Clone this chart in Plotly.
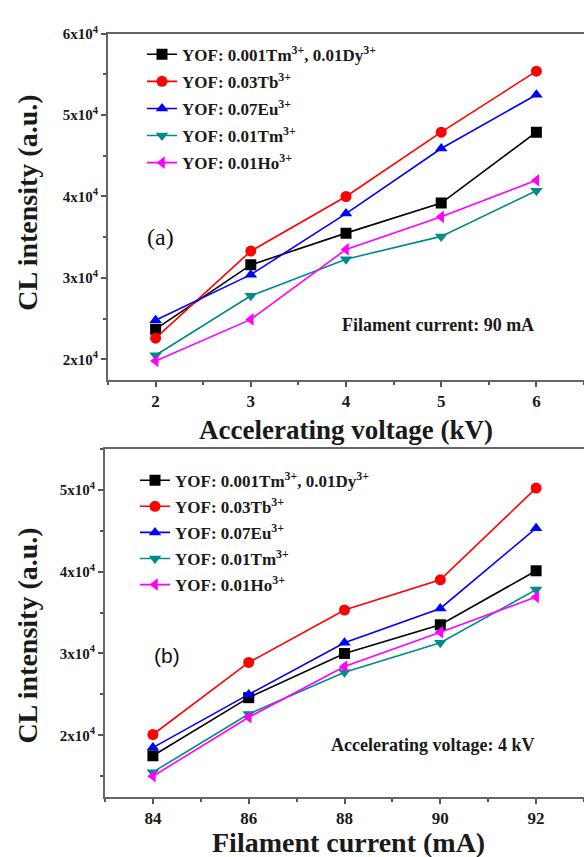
import plotly.graph_objects as go

W, H = 584, 857

# ---------------- data ----------------
voltage_kv = [2, 3, 4, 5, 6]
current_ma = [84, 86, 88, 90, 92]

series_names = [
    "YOF: 0.001Tm<sup>3+</sup>, 0.01Dy<sup>3+</sup>",
    "YOF: 0.03Tb<sup>3+</sup>",
    "YOF: 0.07Eu<sup>3+</sup>",
    "YOF: 0.01Tm<sup>3+</sup>",
    "YOF: 0.01Ho<sup>3+</sup>",
]

# panel (a): CL intensity vs accelerating voltage (filament current 90 mA)
a_tm_dy = [23700, 31600, 35500, 39200, 47900]
a_tb = [22600, 33300, 40000, 47900, 55400]
a_eu = [24800, 30400, 37900, 45900, 52500]
a_tm = [20500, 27800, 32300, 35100, 40700]
a_ho = [19800, 24900, 33500, 37500, 42000]

# panel (b): CL intensity vs filament current (accelerating voltage 4 kV)
b_tm_dy = [17500, 24600, 30000, 33500, 40100]
b_tb = [20100, 28900, 35300, 39000, 50200]
b_eu = [18500, 25000, 31300, 35500, 45300]
b_tm = [15500, 22600, 27700, 31300, 37800]
b_ho = [15000, 22200, 28400, 32600, 36900]

y_tickvals_a = [20000, 30000, 40000, 50000, 60000]
y_ticktext_a = ["2x10<sup>4</sup>", "3x10<sup>4</sup>", "4x10<sup>4</sup>",
                "5x10<sup>4</sup>", "6x10<sup>4</sup>"]
y_tickvals_b = [20000, 30000, 40000, 50000]
y_ticktext_b = ["2x10<sup>4</sup>", "3x10<sup>4</sup>", "4x10<sup>4</sup>",
                "5x10<sup>4</sup>"]

colors = ["#000000", "#ff0000", "#0000ff", "#008b8b", "#ff00ff"]
symbols = ["square", "circle", "triangle-up", "triangle-down", "triangle-left"]

SERIF = "Liberation Serif, Times New Roman, serif"
SANS = "Liberation Sans, Arial, sans-serif"
TXT = "#1a1a1a"


def px(x):
    return x / W


def py(y):
    return 1 - y / H


def bold(s):
    return "<b>%s</b>" % s


fig = go.Figure()

panel_a = [a_tm_dy, a_tb, a_eu, a_tm, a_ho]
panel_b = [b_tm_dy, b_tb, b_eu, b_tm, b_ho]

for i, ys in enumerate(panel_a):
    fig.add_trace(go.Scatter(
        x=voltage_kv, y=ys, mode="lines+markers", name=bold(series_names[i]),
        line=dict(color=colors[i], width=1.6),
        marker=dict(symbol=symbols[i], size=11, color=colors[i]),
        xaxis="x", yaxis="y", legend="legend", legendgroup="a%d" % i,
    ))
for i, ys in enumerate(panel_b):
    fig.add_trace(go.Scatter(
        x=current_ma, y=ys, mode="lines+markers", name=bold(series_names[i]),
        line=dict(color=colors[i], width=1.6),
        marker=dict(symbol=symbols[i], size=11, color=colors[i]),
        xaxis="x2", yaxis="y2", legend="legend2", legendgroup="b%d" % i,
    ))

axis_common = dict(
    showline=True, linecolor="#666666", linewidth=2,
    ticks="outside", ticklen=5, tickwidth=1.5, tickcolor="#555555",
    showgrid=False, zeroline=False,
)

fig.update_layout(
    width=W, height=H,
    margin=dict(l=0, r=0, t=0, b=0),
    paper_bgcolor="white", plot_bgcolor="white",
    xaxis=dict(
        domain=[px(108), 1], anchor="y", range=[1.5, 6.5],
        tickvals=voltage_kv, ticktext=[bold(v) for v in voltage_kv], mirror=True,
        minor=dict(ticks="outside", ticklen=3, dtick=0.5, tick0=0, tickcolor="#555555"),
        tickfont=dict(family=SERIF, size=17, color=TXT),
        **axis_common,
    ),
    yaxis=dict(
        domain=[py(374), py(24)], anchor="x", range=[17500, 60000],
        tickvals=y_tickvals_a, ticktext=[bold(t) for t in y_ticktext_a],
        minor=dict(ticks="outside", ticklen=3, dtick=5000, tick0=0, tickcolor="#555555"),
        tickfont=dict(family=SERIF, size=15, color=TXT),
        **axis_common,
    ),
    xaxis2=dict(
        domain=[px(105), 1], anchor="y2", range=[83, 93],
        tickvals=current_ma, ticktext=[bold(v) for v in current_ma], mirror=True,
        minor=dict(ticks="outside", ticklen=3, dtick=1, tick0=0, tickcolor="#555555"),
        tickfont=dict(family=SERIF, size=17, color=TXT),
        **axis_common,
    ),
    yaxis2=dict(
        domain=[py(796), py(444)], anchor="x2", range=[12500, 55000],
        tickvals=y_tickvals_b, ticktext=[bold(t) for t in y_ticktext_b],
        minor=dict(ticks="outside", ticklen=3, dtick=5000, tick0=0, tickcolor="#555555"),
        tickfont=dict(family=SERIF, size=15, color=TXT),
        **axis_common,
    ),
    legend=dict(
        x=px(142), y=py(27), xanchor="left", yanchor="top",
        bgcolor="rgba(0,0,0,0)", borderwidth=0, tracegroupgap=2,
        font=dict(family=SERIF, size=17, color=TXT),
    ),
    legend2=dict(
        x=px(135), y=py(458), xanchor="left", yanchor="top",
        bgcolor="rgba(0,0,0,0)", borderwidth=0, tracegroupgap=1,
        font=dict(family=SERIF, size=17, color=TXT),
    ),
    showlegend=True,
)

annotations = [
    # axis titles
    dict(text=bold("Accelerating voltage (kV)"), x=px(346), y=py(425), xref="paper", yref="paper",
         showarrow=False, font=dict(family=SERIF, size=27, color=TXT),
         xanchor="center", yanchor="middle"),
    dict(text=bold("Filament current (mA)"), x=px(348), y=py(842), xref="paper", yref="paper",
         showarrow=False, font=dict(family=SERIF, size=28, color=TXT),
         xanchor="center", yanchor="middle"),
    dict(text=bold("CL intensity (a.u.)"), x=px(28), y=py(195), xref="paper", yref="paper",
         showarrow=False, textangle=-90, font=dict(family=SERIF, size=28, color=TXT),
         xanchor="center", yanchor="middle"),
    dict(text=bold("CL intensity (a.u.)"), x=px(28), y=py(633), xref="paper", yref="paper",
         showarrow=False, textangle=-90, font=dict(family=SERIF, size=28, color=TXT),
         xanchor="center", yanchor="middle"),
    # panel labels
    dict(text="(a)", x=2.05, y=35000, xref="x", yref="y", showarrow=False,
         font=dict(family=SERIF, size=24, color="#111111"), xanchor="center", yanchor="middle"),
    dict(text="(b)", x=84.3, y=29800, xref="x2", yref="y2", showarrow=False,
         font=dict(family=SANS, size=21, color="#111111"), xanchor="center", yanchor="middle"),
    # condition notes
    dict(text=bold("Filament current: 90 mA"), x=6.0, y=24200, xref="x", yref="y", showarrow=False,
         font=dict(family=SERIF, size=18, color=TXT), xanchor="right", yanchor="middle"),
    dict(text=bold("Accelerating voltage: 4 kV"), x=92.0, y=18800, xref="x2", yref="y2", showarrow=False,
         font=dict(family=SERIF, size=18, color=TXT), xanchor="right", yanchor="middle"),
]
fig.update_layout(annotations=annotations)

fig.write_html("out.html")
